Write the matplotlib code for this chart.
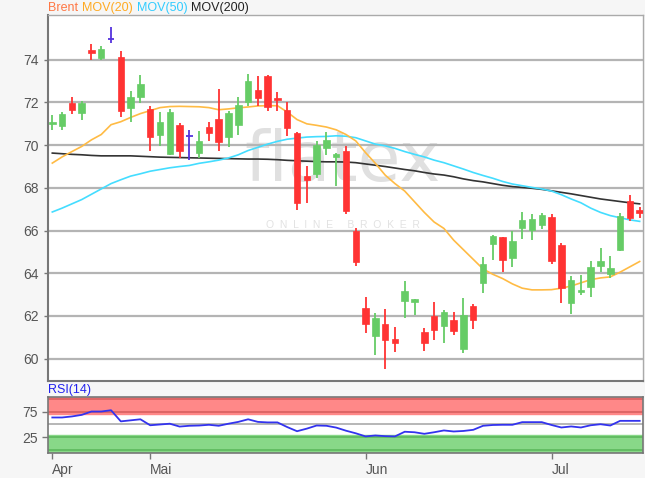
import matplotlib
matplotlib.use("Agg")
import matplotlib.pyplot as plt
import numpy as np

plt.rcParams['font.family'] = ['Liberation Sans', 'DejaVu Sans']

# ---- data (daily candles, Apr-Jul) ----
opens = [70.97, 70.91, 71.97, 71.50, 74.47, 74.08, 74.98, 74.12, 71.74, 72.25,
         71.69, 70.49, 69.58, 70.96, 70.41, 69.63, 70.85, 71.22, 70.38, 70.96,
         72.02, 72.60, 73.22, 72.21, 71.66, 70.57, 68.54, 68.65, 69.87, 69.46,
         69.74, 65.97, 62.38, 61.05, 61.60, 60.93, 62.69, 62.66, 61.25, 61.99,
         61.52, 61.83, 60.46, 62.46, 63.55, 65.39, 65.68, 64.72, 66.12, 66.04,
         66.25, 66.62, 65.34, 62.61, 63.13, 63.36, 64.36, 63.97, 65.11, 67.40,
         66.95]
highs = [71.43, 71.54, 72.28, 72.05, 74.73, 74.67, 75.56, 74.39, 72.52, 73.27,
         71.82, 71.55, 71.69, 71.04, 70.72, 70.65, 71.08, 72.63, 71.58, 72.28,
         73.33, 73.22, 73.30, 72.49, 72.02, 70.60, 69.01, 70.18, 70.61, 69.63,
         69.97, 66.12, 62.88, 62.14, 62.33, 61.49, 63.63, 62.81, 61.44, 62.66,
         62.30, 62.17, 62.85, 62.57, 64.77, 65.81, 65.70, 66.00, 66.87, 66.78,
         66.83, 66.78, 65.42, 63.86, 63.94, 64.56, 65.19, 64.80, 66.83, 67.68,
         67.09]
lows = [70.72, 70.72, 71.46, 71.19, 74.00, 74.00, 74.78, 71.30, 71.08, 71.97,
        69.71, 69.94, 69.55, 69.40, 69.29, 69.40, 70.21, 69.71, 69.90, 70.46,
        71.82, 71.85, 71.58, 71.58, 70.41, 66.98, 67.29, 68.46, 69.55, 68.07,
        66.78, 64.33, 61.21, 60.19, 59.49, 60.32, 61.89, 62.02, 60.35, 60.85,
        60.74, 61.10, 60.27, 61.39, 63.08, 64.64, 64.06, 64.30, 65.62, 65.58,
        66.09, 64.41, 62.61, 62.07, 63.00, 62.89, 64.05, 63.78, 65.03, 66.43,
        66.59]
closes = [71.10, 71.46, 71.66, 71.97, 74.34, 74.50, 74.98, 71.58, 72.25, 72.88,
          70.40, 71.08, 71.54, 69.74, 70.41, 70.21, 70.57, 70.13, 71.50, 71.89,
          73.02, 72.21, 71.77, 72.11, 70.80, 67.29, 68.38, 70.02, 70.26, 69.58,
          66.90, 64.53, 61.60, 61.88, 60.85, 60.74, 63.19, 62.77, 60.74, 61.32,
          62.17, 61.29, 62.03, 61.83, 64.41, 65.73, 64.64, 65.53, 66.51, 66.56,
          66.72, 64.56, 63.31, 63.70, 63.23, 64.30, 64.59, 64.25, 66.67, 66.59,
          66.82]

mov20 = [69.16, 69.45, 69.70, 69.94, 70.25, 70.50, 70.96, 71.10, 71.30, 71.48,
         71.62, 71.76, 71.81, 71.82, 71.81, 71.80, 71.76, 71.66, 71.70, 71.75,
         71.79, 71.84, 71.85, 71.85, 71.55, 71.20, 71.00, 70.93, 70.85, 70.72,
         70.50, 70.20, 69.65, 69.15, 68.60, 68.20, 67.85, 67.35, 66.85, 66.40,
         66.10, 65.55, 65.10, 64.65, 64.20, 63.95, 63.75, 63.50, 63.30, 63.22,
         63.22, 63.23, 63.30, 63.40, 63.55, 63.70, 63.78, 63.83, 64.05, 64.30,
         64.55]
mov50 = [66.87, 67.05, 67.25, 67.45, 67.70, 67.95, 68.20, 68.38, 68.55, 68.66,
         68.78, 68.86, 68.94, 69.00, 69.05, 69.15, 69.22, 69.30, 69.40, 69.55,
         69.75, 69.90, 70.05, 70.18, 70.28, 70.33, 70.38, 70.40, 70.41, 70.44,
         70.42, 70.35, 70.20, 70.05, 69.97, 69.85, 69.70, 69.57, 69.45, 69.30,
         69.18, 69.03, 68.88, 68.72, 68.58, 68.45, 68.30, 68.18, 68.10, 68.02,
         67.95, 67.85, 67.68, 67.48, 67.30, 67.05, 66.85, 66.70, 66.60, 66.50,
         66.43]
mov200 = [69.63, 69.60, 69.57, 69.55, 69.52, 69.50, 69.50, 69.50, 69.50, 69.48,
          69.46, 69.44, 69.43, 69.42, 69.41, 69.40, 69.39, 69.38, 69.37, 69.36,
          69.35, 69.35, 69.34, 69.32, 69.29, 69.27, 69.25, 69.23, 69.22, 69.22,
          69.21, 69.18, 69.12, 69.06, 69.00, 68.93, 68.86, 68.80, 68.72, 68.65,
          68.60, 68.52, 68.42, 68.34, 68.28, 68.20, 68.12, 68.06, 68.02, 67.98,
          67.93, 67.86, 67.79, 67.72, 67.64, 67.56, 67.48, 67.42, 67.36, 67.30,
          67.25]
rsi = [63.5, 63.5, 65.5, 68.5, 75.0, 75.0, 77.5, 56.0, 58.0, 60.0,
       48.5, 50.0, 51.5, 46.0, 47.5, 48.0, 49.4, 47.5, 51.5, 55.0,
       60.0, 55.0, 54.0, 54.0, 45.0, 37.0, 42.0, 48.0, 47.5, 44.0,
       38.0, 33.0, 27.0, 28.8, 27.5, 27.0, 36.0, 35.0, 32.0, 35.0,
       38.5, 36.5, 37.5, 39.7, 47.5, 49.0, 49.4, 49.4, 54.5, 54.5,
       54.5, 49.0, 44.2, 46.2, 44.2, 48.5, 50.5, 48.0, 57.0, 57.0,
       57.0]
month_labels = ['Apr', 'Mai', 'Jun', 'Jul']
month_index = [0, 10, 32, 51]
price_ticks = [60, 62, 64, 66, 68, 70, 72, 74]
rsi_ticks = [25, 75]
legend_names = ['Brent', 'MOV(20)', 'MOV(50)', 'MOV(200)']

# ---- styling ----
GREEN = '#66cc66'
RED = '#ff3333'
DOJI = '#5533dd'
C20 = '#ffbb44'
C50 = '#44ddff'
C200 = '#333333'
GRID = '#b4b4b4'
TXT = '#555555'
legend_colors = ['#ff7744', '#ffaa22', '#33ccff', '#222222']

W, H = 645, 478
fig = plt.figure(figsize=(W / 100, H / 100), dpi=100, facecolor='#f6f6f6')

def rect(l, t, r, b):
    return [l / W, 1 - b / H, (r - l) / W, (b - t) / H]

ax = fig.add_axes(rect(48, 15, 643, 381))
ax2 = fig.add_axes(rect(48, 397, 643, 453))

x = np.arange(len(opens))
xlim = (-0.44, 60.34)

# watermark
ax.text(0.495, 0.6, 'flatex', transform=ax.transAxes, ha='center', va='center',
        fontsize=50, color='#e0e0e0', family='DejaVu Sans', fontweight='normal', zorder=0.5)
ax.text(0.495, 0.425, 'O  N  L  I  N  E     B  R  O  K  E  R', transform=ax.transAxes,
        ha='center', va='center', fontsize=7.5, color='#e2e2e2', zorder=0.5)

for yv in price_ticks:
    ax.axhline(yv, color=GRID, lw=1.6, zorder=1)

ax.plot(x, mov200, color=C200, lw=1.2, zorder=2)
ax.plot(x, mov50, color=C50, lw=1.2, zorder=2)
ax.plot(x, mov20, color=C20, lw=1.2, zorder=2)

bw = 0.66
for i in x:
    o, h, l, c = opens[i], highs[i], lows[i], closes[i]
    if c > o:
        col = GREEN
    elif c < o:
        col = RED
    else:
        col = DOJI
    ax.vlines(i, l, h, color=col, lw=1.3, zorder=3)
    if col == DOJI:
        ax.hlines(o, i - bw / 2, i + bw / 2, color=col, lw=1.3, zorder=3)
    else:
        lo, hi = min(o, c), max(o, c)
        ax.add_patch(plt.Rectangle((i - bw / 2, lo), bw, max(hi - lo, 0.06),
                                   facecolor=col, edgecolor=col, lw=0.5, zorder=4))

ax.set_xlim(*xlim)
ax.set_ylim(58.95, 76.1)
ax.set_yticks(price_ticks)
ax.set_yticklabels([str(v) for v in price_ticks])
ax.tick_params(axis='y', colors='#777777', labelcolor=TXT, labelsize=10, length=3, width=1)
ax.set_xticks([])
for s in ['left', 'bottom']:
    ax.spines[s].set_color('#777777')
    ax.spines[s].set_linewidth(1.5)
for s in ['top', 'right']:
    ax.spines[s].set_color('#aaaaaa')
    ax.spines[s].set_linewidth(1.0)

# legend title: texts placed one after another
renderer = fig.canvas.get_renderer()
xp = 48.0
for name, col in zip(legend_names, legend_colors):
    t = fig.text(xp / W, 1 - 8 / H, name, color=col, fontsize=9, va='center', ha='left')
    bb = t.get_window_extent(renderer=renderer)
    xp += bb.width + 4

# ---- RSI panel ----
ylo, yhi = -5, 103
ax2.axhspan(71, yhi, color='#ff8888', zorder=0)
ax2.axhspan(ylo, 30, color='#88d888', zorder=0)
ax2.axhline(100, color='#d86060', lw=1.2, zorder=1)
ax2.axhline(75, color='#d86060', lw=1.2, zorder=1)
ax2.axhline(25, color='#5cb85c', lw=1.2, zorder=1)
ax2.axhline(0, color='#5cb85c', lw=1.2, zorder=1)
ax2.axhline(50, color='#aaaaaa', lw=1.2, zorder=1)
ax2.plot(x, rsi, color='#3333ee', lw=1.3, zorder=3)
ax2.set_xlim(*xlim)
ax2.set_ylim(ylo, yhi)
ax2.set_yticks(rsi_ticks)
ax2.set_yticklabels([str(v) for v in rsi_ticks])
ax2.set_xticks(month_index)
ax2.set_xticklabels(month_labels, ha='left')
ax2.tick_params(axis='both', colors='#777777', labelcolor=TXT, labelsize=10, length=4, width=1)
for s in ['left', 'bottom', 'top', 'right']:
    ax2.spines[s].set_color('#777777')
    ax2.spines[s].set_linewidth(1.2)
fig.text(48 / W, 1 - 390 / H, 'RSI(14)', color='#2222ee', fontsize=9, va='center', ha='left')

fig.savefig('out.png', dpi=100, facecolor=fig.get_facecolor())
